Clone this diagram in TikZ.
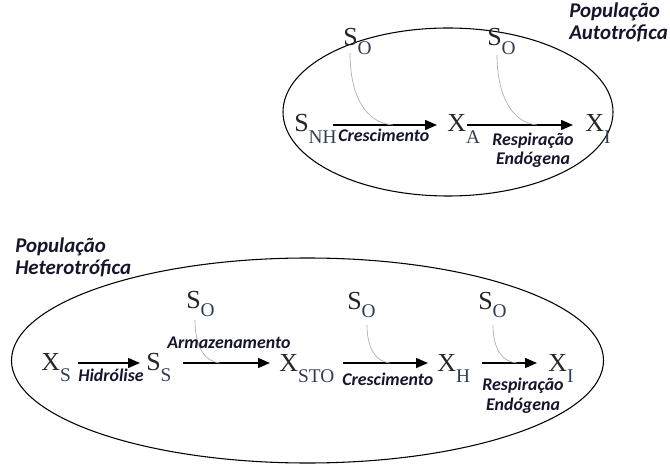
\documentclass[tikz,border=0pt]{standalone}
\usepackage{fontspec}
\setmainfont{Liberation Serif}
\newfontfamily\labfont{Carlito}
\usetikzlibrary{arrows.meta,calc}
\definecolor{lettc}{HTML}{262626}
\definecolor{subc}{HTML}{2F3C58}
\definecolor{labc}{HTML}{15152E}
\newcommand{\mysub}[1]{\raisebox{-8.5pt}{\textcolor{subc}{\fontsize{14.5}{14.5}\selectfont #1}}}
\newcommand{\osub}[1]{\raisebox{-6.5pt}{\textcolor{subc}{\fontsize{14.5}{14.5}\selectfont #1}}}
\tikzset{
  sp/.style={anchor=base west, inner sep=0pt, text=lettc, font=\fontsize{19.5}{19.5}\selectfont},
  lab/.style={inner sep=0pt, text=labc, font=\labfont\bfseries\itshape\fontsize{13.4}{14.5}\selectfont},
  ttl/.style={inner sep=0pt, anchor=base west, align=left, text=labc, font=\labfont\bfseries\itshape\fontsize{15.7}{17}\selectfont},
  arr/.style={line width=1.1pt, -{Triangle[length=9pt,width=7.5pt]}},
  oxy/.style={draw=gray!65, line width=0.5pt},
  pop/.style={draw=black, line width=0.8pt}
}
\begin{document}
\begin{tikzpicture}[x=0.75pt,y=-0.75pt]
\useasboundingbox (0,0) rectangle (670,466);
% ellipses
\draw[pop] (448,112) ellipse [x radius=165, y radius=84];
\draw[pop] (307.5,360.5) ellipse [x radius=296, y radius=102.5];
% titles
\node[ttl] (tA) at (569,40) {População\\Autotrófica};
\node[ttl] (tH) at (15,275) {População\\Heterotrófica};
% top row
\node[sp] (snh) at (294,132) {S\mysub{NH}};
\node[sp] (xa) at (447,132) {X\mysub{A}};
\node[sp] (xi) at (585,132) {X\mysub{I}};
\node[sp] (so1) at (343,46) {S\osub{O}};
\node[sp] (so2) at (487,46) {S\osub{O}};
\coordinate (c1) at (393,125);
\coordinate (c2) at (537,125);
\draw[arr] ($(snh.base west)+(39,-7)$) -- ($(xa.base west)+(-10,-7)$);
\draw[arr] ($(xa.base west)+(20,-7)$) -- ($(xi.base west)+(-12,-7)$);
\draw[oxy] ($(so1.base west)+(7,7)$) .. controls (350,95) and (365,123) .. (c1);
\draw[oxy] ($(so2.base west)+(10,9)$) .. controls (497,95) and (512,123) .. (c2);
\node[lab, anchor=base west] (l1) at (338,142) {Crescimento};
\node[lab, anchor=base, align=center] (l2) at (533,165) {Respiração\\Endógena};
% bottom row
\node[sp] (xs) at (41,370) {X\mysub{S}};
\node[sp] (ss) at (146,370) {S\mysub{S}};
\node[sp] (xsto) at (279,371) {X\mysub{STO}};
\node[sp] (xh) at (437,371) {X\mysub{H}};
\node[sp] (xi2) at (548,371) {X\mysub{I}};
\node[sp] (so3) at (186,308) {S\osub{O}};
\node[sp] (so4) at (347,309) {S\osub{O}};
\node[sp] (so5) at (478,309) {S\osub{O}};
\coordinate (c3) at (220,363);
\coordinate (c4) at (390,363);
\coordinate (c5) at (517,363);
\draw[arr] ($(xs.base west)+(37,-7)$) -- ($(ss.base west)+(-6,-7)$);
\draw[arr] ($(ss.base west)+(37,-7)$) -- ($(xsto.base west)+(-9,-8)$);
\draw[arr] ($(xsto.base west)+(64,-8)$) -- ($(xh.base west)+(-9,-8)$);
\draw[arr] ($(xh.base west)+(45,-8)$) -- ($(xi2.base west)+(-11,-8)$);
\draw[oxy] ($(so3.base west)+(9,12)$) .. controls (195,347) and (205,362) .. (c3);
\draw[oxy] ($(so4.base west)+(20,16)$) .. controls (367,350) and (377,362) .. (c4);
\draw[oxy] ($(so5.base west)+(15,16)$) .. controls (493,350) and (503,362) .. (c5);
\node[lab, anchor=base west] (l3) at (78,381) {Hidrólise};
\node[lab, anchor=base west] (l4) at (167,348) {Armazenamento};
\node[lab, anchor=base west] (l5) at (342,385) {Crescimento};
\node[lab, anchor=base, align=center] (l6) at (523,410) {Respiração\\Endógena};
\end{tikzpicture}
\end{document}
